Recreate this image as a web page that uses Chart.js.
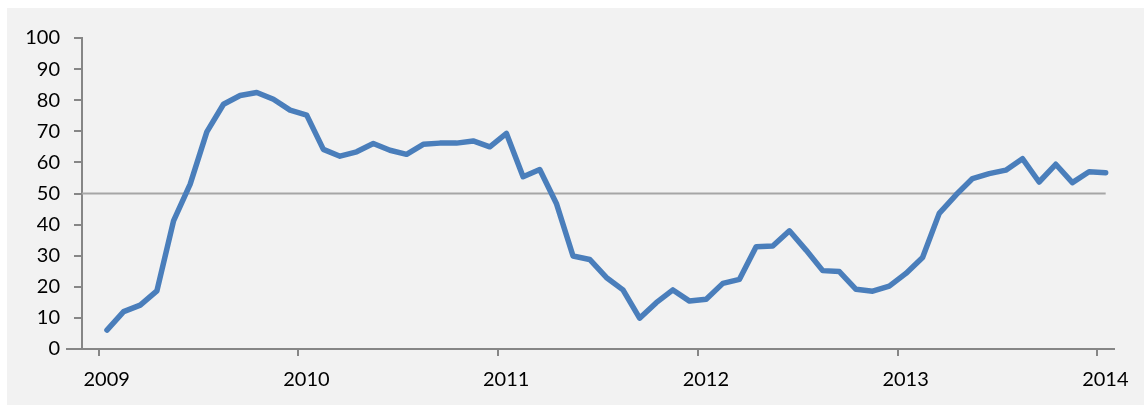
<!DOCTYPE html>
<html>
<head>
<meta charset="utf-8">
<script src="https://cdn.jsdelivr.net/npm/chart.js@4.4.1/dist/chart.umd.min.js"></script>
<style>
  html, body { margin: 0; padding: 0; background: #ffffff; }
  #wrap { width: 1144px; height: 407px; }
</style>
</head>
<body>
<div id="wrap"><canvas id="lineChart" width="1144" height="407"></canvas></div>
<script>
// monthly readings, Jan 2009 .. Jan 2014
const months = [
  '2009-01','2009-02','2009-03','2009-04','2009-05','2009-06','2009-07','2009-08','2009-09','2009-10','2009-11','2009-12',
  '2010-01','2010-02','2010-03','2010-04','2010-05','2010-06','2010-07','2010-08','2010-09','2010-10','2010-11','2010-12',
  '2011-01','2011-02','2011-03','2011-04','2011-05','2011-06','2011-07','2011-08','2011-09','2011-10','2011-11','2011-12',
  '2012-01','2012-02','2012-03','2012-04','2012-05','2012-06','2012-07','2012-08','2012-09','2012-10','2012-11','2012-12',
  '2013-01','2013-02','2013-03','2013-04','2013-05','2013-06','2013-07','2013-08','2013-09','2013-10','2013-11','2013-12',
  '2014-01'
];
const values = [
  6.1, 12.0, 14.1, 18.7, 41.2, 53.0, 69.8, 78.7, 81.5, 82.5, 80.3, 76.8,
  75.2, 64.2, 62.0, 63.4, 66.1, 63.9, 62.6, 65.8, 66.2, 66.2, 66.9, 65.0,
  69.3, 55.4, 57.7, 46.8, 29.9, 28.8, 23.0, 19.0, 9.9, 14.9, 19.0, 15.4,
  16.0, 21.1, 22.4, 32.9, 33.1, 38.0, 31.8, 25.2, 24.9, 19.2, 18.6, 20.2,
  24.3, 29.4, 43.6, 49.5, 54.8, 56.4, 57.5, 61.2, 53.7, 59.4, 53.5, 57.0,
  56.7
];
const yearLabels = ['2009', '2010', '2011', '2012', '2013', '2014'];
const threshold = 50;

const axisGray = '#868686';

// grey panel behind the chart and the short stub of the x axis left of the y axis
const panelPlugin = {
  id: 'panel',
  beforeDraw(chart) {
    const ctx = chart.ctx;
    ctx.save();
    ctx.fillStyle = '#f2f2f2';
    ctx.fillRect(7, 8, chart.width - 7, 397);
    ctx.restore();
  },
  afterDraw(chart) {
    const ctx = chart.ctx;
    const area = chart.chartArea;
    ctx.save();
    ctx.strokeStyle = axisGray;
    ctx.lineWidth = 2;
    ctx.beginPath();
    ctx.moveTo(area.left - 16, area.bottom);
    ctx.lineTo(area.left, area.bottom);
    ctx.stroke();
    ctx.restore();
  }
};

const ctx = document.getElementById('lineChart').getContext('2d');
const chart = new Chart(ctx, {
  type: 'line',
  data: {
    datasets: [
      {
        label: 'Index',
        data: values.map((v, i) => ({ x: i + 0.5, y: v })),
        borderColor: '#4a7ebb',
        borderWidth: 5.5,
        borderJoinStyle: 'round',
        borderCapStyle: 'round',
        pointRadius: 0,
        tension: 0,
        order: 1,
      },
      {
        label: 'Threshold',
        data: [{ x: -1, y: threshold }, { x: months.length - 0.5, y: threshold }],
        borderColor: '#a6a6a6',
        borderWidth: 2,
        pointRadius: 0,
        order: 2,
      },
    ],
  },
  options: {
    responsive: false,
    devicePixelRatio: 1,
    animation: false,
    layout: { padding: { left: 0, right: 30, top: 38, bottom: 0 } },
    plugins: { legend: { display: false }, tooltip: { enabled: false } },
    scales: {
      x: {
        type: 'linear',
        min: -1,
        max: 61,
        afterBuildTicks: (scale) => {
          scale.ticks = yearLabels.map((_, i) => ({ value: i * 12 }));
        },
        afterFit: (scale) => { scale.height = 58; },
        grid: { drawOnChartArea: false, drawTicks: true, tickLength: 7, color: axisGray, lineWidth: 2 },
        border: { color: axisGray, width: 2 },
        ticks: {
          labelOffset: 8,
          padding: 12,
          maxRotation: 0,
          autoSkip: false,
          color: '#000000',
          font: { family: 'Lato', size: 20 },
          callback: (value) => yearLabels[value / 12],
        },
      },
      y: {
        min: 0,
        max: 100,
        afterFit: (scale) => { scale.width = 82; },
        grid: { drawOnChartArea: false, drawTicks: true, tickLength: 8, color: axisGray, lineWidth: 2 },
        border: { color: axisGray, width: 2 },
        ticks: {
          stepSize: 10,
          padding: 14,
          color: '#000000',
          font: { family: 'Lato', size: 20 },
        },
      },
    },
  },
  plugins: [panelPlugin],
});
</script>
</body>
</html>
